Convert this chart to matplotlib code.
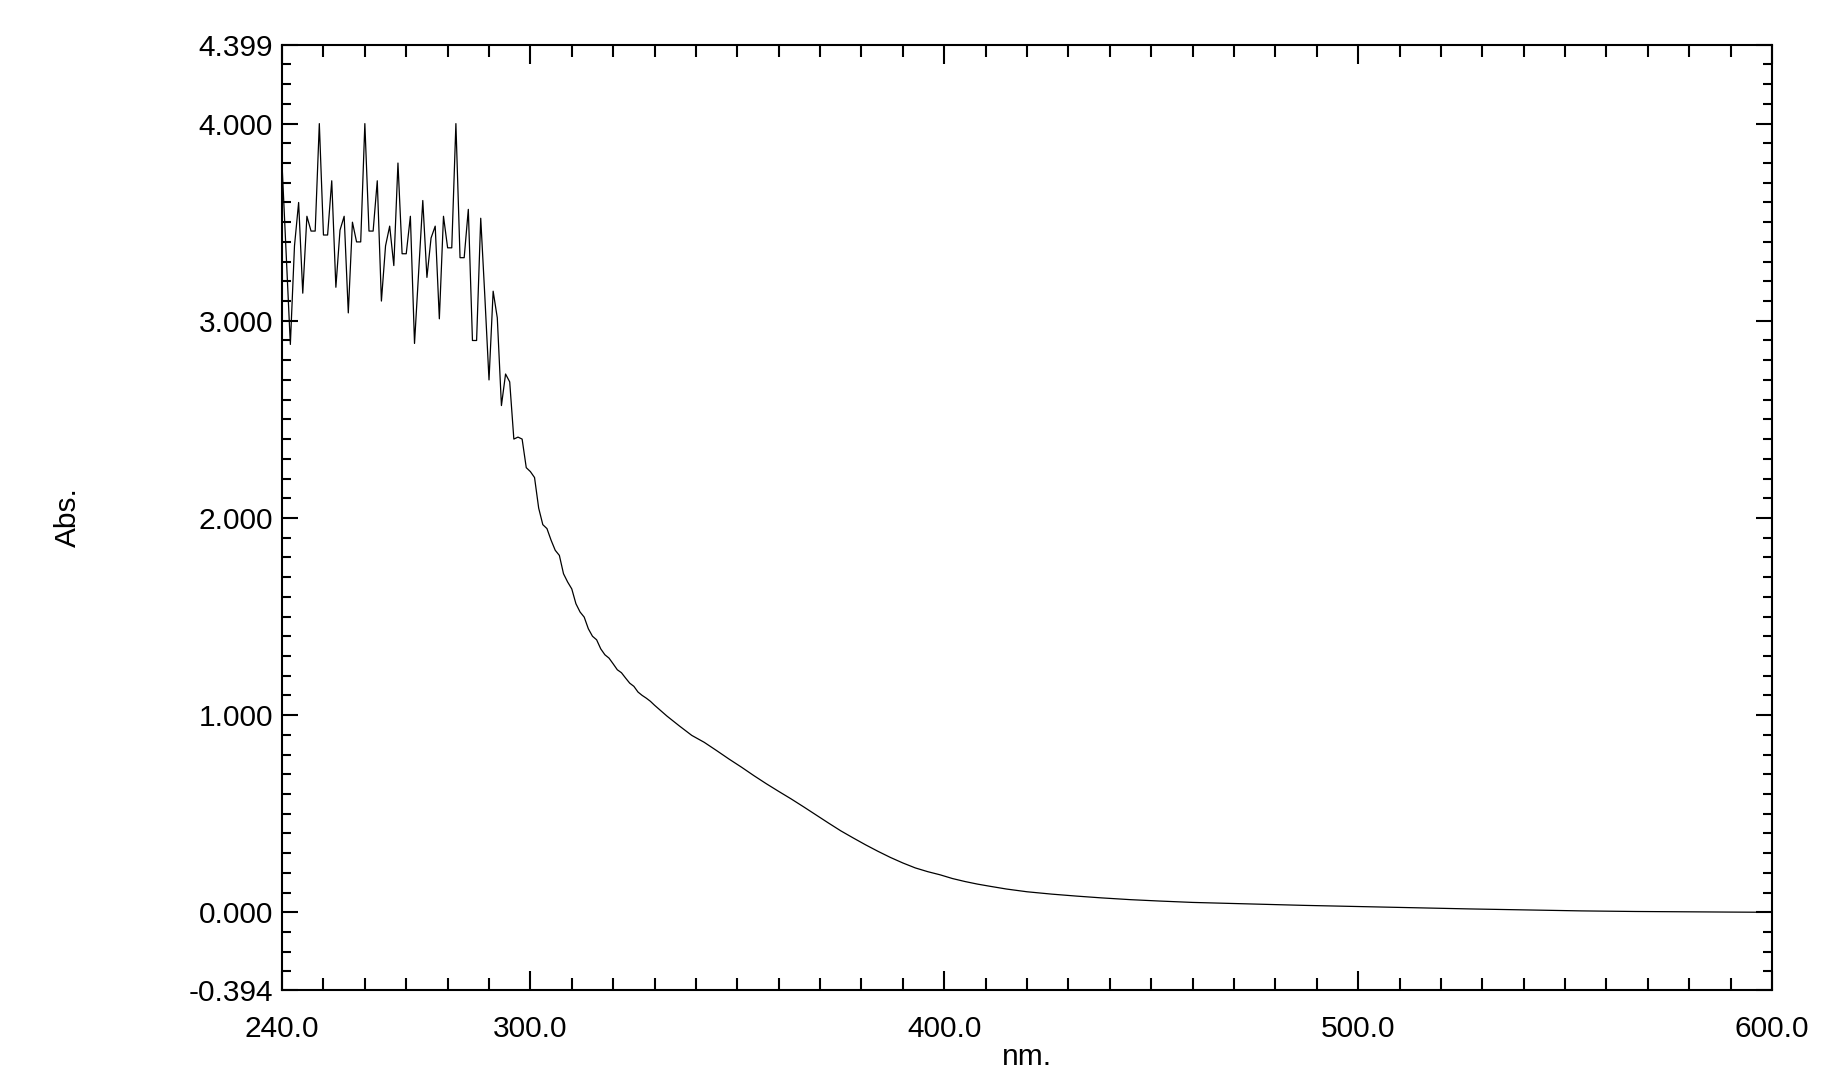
import numpy as np
import matplotlib.pyplot as plt
from matplotlib.ticker import MultipleLocator, FixedLocator

'''
UV-Vis absorbance spectrum (Abs. vs nm.)
'''

plt.rcParams['font.family'] = ['Liberation Sans', 'DejaVu Sans']

# noisy saturated part, 1 nm steps
wl_noisy = list(range(240, 330))
abs_noisy = [
    3.79, 3.34, 2.88, 3.38, 3.60, 3.14, 3.53, 3.455, 3.455, 4.00,   # 240-249
    3.435, 3.435, 3.71, 3.17, 3.46, 3.53, 3.04, 3.50, 3.40, 3.40,   # 250-259
    4.00, 3.455, 3.455, 3.71, 3.10, 3.38, 3.48, 3.28, 3.80, 3.34,   # 260-269
    3.34, 3.53, 2.885, 3.25, 3.61, 3.22, 3.42, 3.48, 3.01, 3.53,    # 270-279
    3.37, 3.37, 4.00, 3.32, 3.32, 3.565, 2.90, 2.90, 3.52, 3.12,    # 280-289
    2.70, 3.15, 3.015, 2.57, 2.73, 2.69, 2.40, 2.41, 2.40, 2.255,   # 290-299
    2.235, 2.205, 2.05, 1.966, 1.946, 1.887, 1.836, 1.81, 1.717, 1.675,  # 300-309
    1.64, 1.565, 1.523, 1.497, 1.438, 1.40, 1.382, 1.336, 1.306, 1.289,  # 310-319
    1.26, 1.23, 1.215, 1.188, 1.162, 1.146, 1.117, 1.10, 1.086, 1.07,    # 320-329
]

# smooth tail
wl_tail = [330, 333, 336, 339, 342, 345, 348, 351, 354, 357, 360, 363, 366,
           369, 372, 375, 378, 381, 384, 387, 390, 393, 396, 399, 402, 405,
           408, 411, 415, 420, 426, 432, 438, 445, 452, 460, 474, 487, 500,
           513, 527, 540, 554, 567, 580, 590, 600]
abs_tail = [1.05, 0.995, 0.945, 0.897, 0.862, 0.82, 0.777, 0.736, 0.693, 0.652,
            0.613, 0.575, 0.535, 0.494, 0.453, 0.413, 0.377, 0.342, 0.309,
            0.278, 0.25, 0.225, 0.206, 0.19, 0.171, 0.156, 0.143, 0.132,
            0.118, 0.104, 0.092, 0.082, 0.073, 0.064, 0.057, 0.050, 0.042,
            0.035, 0.029, 0.023, 0.017, 0.012, 0.007, 0.004, 0.002, 0.001,
            0.000]

wavelength = np.array(wl_noisy + wl_tail)
absorbance = np.array(abs_noisy + abs_tail)

x_ticks = [240.0, 300.0, 400.0, 500.0, 600.0]
y_ticks = [-0.394, 0.0, 1.0, 2.0, 3.0, 4.0, 4.399]

fig = plt.figure(figsize=(18.21, 10.70), dpi=100)
ax = fig.add_axes([0.1549, 0.0748, 0.8182, 0.8832])

ax.plot(wavelength, absorbance, color='black', lw=0.9)

ax.set_xlim(240, 600)
ax.set_ylim(-0.394, 4.399)

ax.xaxis.set_major_locator(FixedLocator(x_ticks))
ax.yaxis.set_major_locator(FixedLocator(y_ticks))
ax.xaxis.set_minor_locator(MultipleLocator(10))
ax.yaxis.set_minor_locator(MultipleLocator(0.1))
ax.set_xticklabels(['%.1f' % v for v in x_ticks])
ax.set_yticklabels(['%.3f' % v for v in y_ticks])

for s in ax.spines.values():
    s.set_linewidth(1.5)

ax.tick_params(axis='both', which='both', direction='in', top=True, right=True,
               width=1.5, labelsize=21.5)
ax.tick_params(axis='x', which='major', length=14, pad=18)
ax.tick_params(axis='x', which='minor', length=8.5)
ax.tick_params(axis='y', which='major', length=11.5, pad=6.5)
ax.tick_params(axis='y', which='minor', length=6.5)

ax.set_xlabel('nm.', fontsize=21.5, labelpad=0)
ax.set_ylabel('Abs.', fontsize=21.5)
ax.yaxis.set_label_coords(-0.134, 0.5)

plt.savefig('out.png', dpi=100)
plt.close()
